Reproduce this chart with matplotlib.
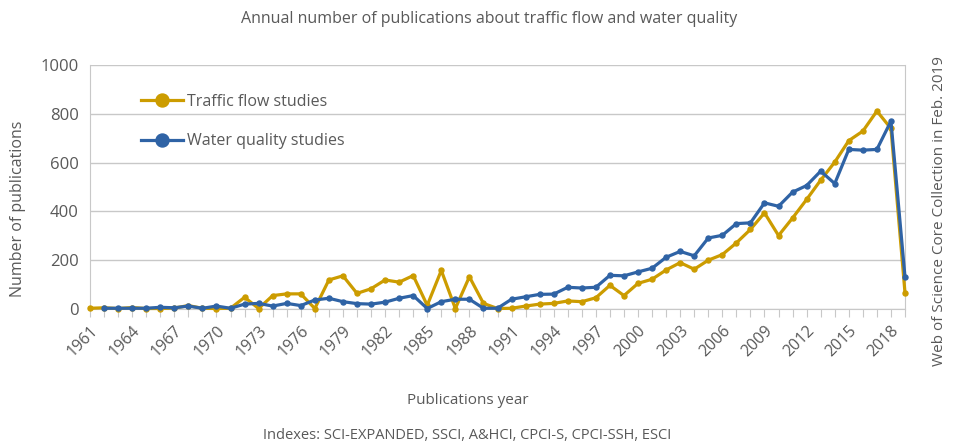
import numpy as np
import matplotlib
matplotlib.use("Agg")
import matplotlib.pyplot as plt

plt.rcParams['font.family'] = ['Open Sans', 'DejaVu Sans']

years = list(range(1961, 2020))
traffic = [3, 5, 2, 6, 2, 2, 4, 14, 3,
           2, 3, 48, 2, 55, 62, 62, 2, 119, 136,
           64, 83, 119, 110, 137, 15, 158, 2, 132, 23,
           2, 3, 12, 20, 23, 33, 30, 46, 97, 55,
           105, 122, 160, 190, 163, 200, 223, 271, 326, 394,
           301, 373, 449, 528, 602, 690, 729, 811, 740, 66]
water = [np.nan, 3, 3, 3, 3, 7, 5, 12, 3,
         12, 3, 20, 23, 12, 23, 14, 37, 44, 30,
         22, 20, 28, 44, 55, 2, 30, 40, 40, 3,
         3, 40, 50, 60, 61, 89, 86, 89, 138, 136,
         152, 167, 212, 236, 218, 291, 302, 350, 353, 435,
         421, 479, 506, 565, 514, 654, 651, 654, 770, 131]

gold = '#CC9C00'
blue = '#2F63A5'
txt = '#595959'
grid = '#C8C8C8'

fig = plt.figure(figsize=(9.54, 4.48), dpi=100)
ax = fig.add_axes([90/954, 1 - 309/448, 815/954, 244/448])

ax.plot(years, traffic, color=gold, lw=2.3, marker='o', ms=3.6,
        label='Traffic flow studies', clip_on=False, zorder=3)
ax.plot(years, water, color=blue, lw=2.3, marker='o', ms=3.6,
        label='Water quality studies', clip_on=False, zorder=4)

ax.set_xlim(1961, 2019)
ax.set_ylim(0, 1000)
ax.set_yticks(range(0, 1001, 200))
ax.yaxis.grid(True, color=grid, lw=1)
ax.set_axisbelow(True)
ax.tick_params(axis='y', length=0, labelsize=12, labelcolor=txt, pad=8)

ax.set_xticks(years)
ax.set_xticklabels([str(y) if (y - 1961) % 3 == 0 else '' for y in years],
                   rotation=45, ha='right', rotation_mode='anchor')
ax.tick_params(axis='x', direction='out', length=6, color=grid,
               labelsize=11.5, labelcolor=txt, pad=4)

for s in ax.spines.values():
    s.set_color(grid)
ax.spines['top'].set_visible(False)

leg = ax.legend(loc='upper left', bbox_to_anchor=(0.045, 0.94), frameon=False,
                fontsize=11.5, handlelength=2.6, labelspacing=1.45,
                handletextpad=0.3, markerscale=2.6, labelcolor=txt)

fig.text(0.513, 0.958, 'Annual number of publications about traffic flow and water quality',
         ha='center', va='center', fontsize=11.5, color=txt)
fig.text(0.019, 0.533, 'Number of publications', rotation=90,
         ha='center', va='center', fontsize=11.5, color=txt)
fig.text(0.49, 0.105, 'Publications year', ha='center', va='center',
         fontsize=11, color=txt)
fig.text(0.49, 0.028, 'Indexes: SCI-EXPANDED, SSCI, A&HCI, CPCI-S, CPCI-SSH, ESCI',
         ha='center', va='center', fontsize=10.5, color=txt)
fig.text(0.985, 0.53, 'Web of Science Core Collection in Feb. 2019', rotation=90,
         ha='center', va='center', fontsize=11, color=txt)

fig.savefig('out.png', dpi=100)
